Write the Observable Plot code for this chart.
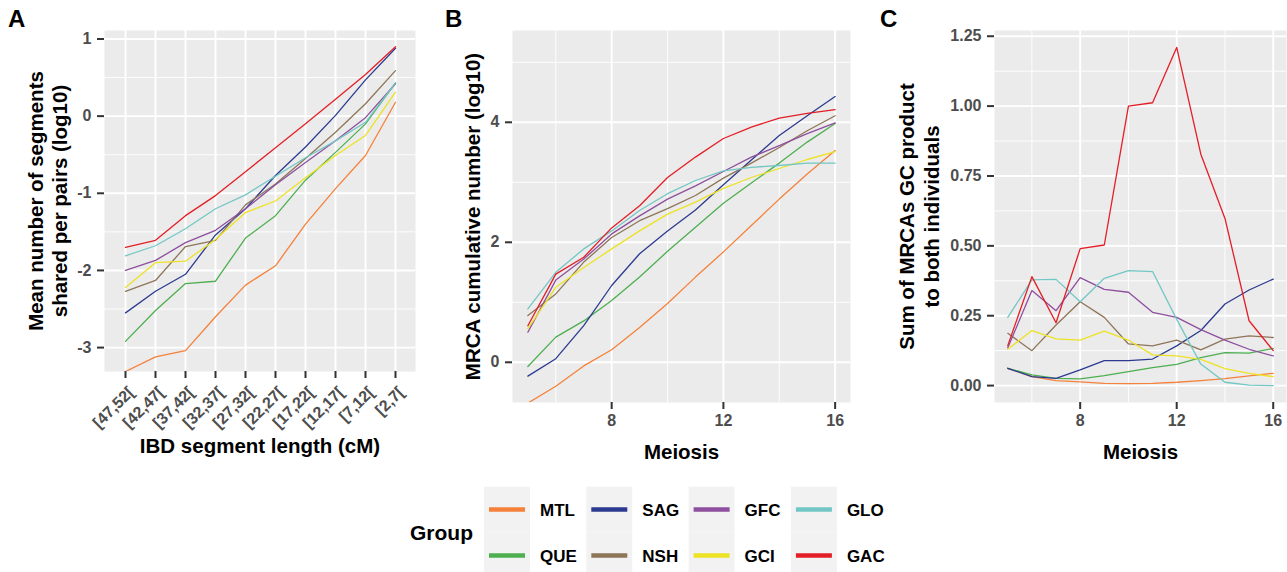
<!DOCTYPE html>
<html>
<head>
<meta charset="utf-8">
<script src="https://cdn.jsdelivr.net/npm/d3@7"></script>
<script src="https://cdn.jsdelivr.net/npm/@observablehq/plot@0.6"></script>
<style>
  body { margin: 0; background: #fff; font-family: "Liberation Sans", Arial, sans-serif; }
  #chart { position: relative; width: 1287px; height: 572px; overflow: hidden; background: #fff; }
  .panel { position: absolute; top: 0; }
  #overlay { position: absolute; left: 0; top: 0; pointer-events: none; }
</style>
</head>
<body>
<div id="chart"></div>
<script>
// ---------- data ----------
const groups = ["MTL", "QUE", "SAG", "NSH", "GFC", "GCI", "GLO", "GAC"];
const groupColors = ["#F5813A", "#4DAF4F", "#2B3A90", "#8E7558", "#8E4F9E", "#EDE224", "#72C7C4", "#E41E26"];

const segmentBins = ["[47,52[", "[42,47[", "[37,42[", "[32,37[", "[27,32[", "[22,27[", "[17,22[", "[12,17[", "[7,12[", "[2,7["];
const meiosis = [5, 6, 7, 8, 9, 10, 11, 12, 13, 14, 15, 16];

// Panel A: mean number of segments shared per pairs (log10), rows follow `groups`
const segValues = [
  [-3.31, -3.12, -3.04, -2.60, -2.19, -1.94, -1.40, -0.94, -0.51, 0.18],
  [-2.92, -2.52, -2.17, -2.14, -1.58, -1.29, -0.83, -0.47, -0.10, 0.43],
  [-2.55, -2.27, -2.05, -1.54, -1.20, -0.77, -0.40, 0.01, 0.47, 0.88],
  [-2.27, -2.13, -1.69, -1.61, -1.15, -0.88, -0.55, -0.21, 0.16, 0.59],
  [-2.00, -1.87, -1.64, -1.48, -1.20, -0.89, -0.60, -0.32, -0.02, 0.42],
  [-2.22, -1.90, -1.88, -1.60, -1.25, -1.10, -0.80, -0.51, -0.25, 0.31],
  [-1.81, -1.68, -1.46, -1.20, -1.02, -0.78, -0.54, -0.32, -0.08, 0.43],
  [-1.70, -1.61, -1.29, -1.03, -0.72, -0.41, -0.10, 0.22, 0.54, 0.90]
];

// Panel B: MRCA cumulative number (log10)
const mrcaValues = [
  [-0.68, -0.40, -0.06, 0.21, 0.58, 0.98, 1.42, 1.84, 2.28, 2.72, 3.14, 3.53],
  [-0.07, 0.42, 0.69, 1.03, 1.42, 1.85, 2.25, 2.65, 2.99, 3.32, 3.67, 3.98],
  [-0.23, 0.06, 0.61, 1.28, 1.81, 2.19, 2.54, 2.96, 3.37, 3.78, 4.11, 4.43],
  [0.78, 1.14, 1.67, 2.08, 2.36, 2.56, 2.78, 3.07, 3.32, 3.58, 3.86, 4.11],
  [0.50, 1.37, 1.72, 2.14, 2.44, 2.72, 2.94, 3.18, 3.42, 3.61, 3.81, 3.99],
  [0.56, 1.25, 1.58, 1.89, 2.19, 2.47, 2.67, 2.90, 3.08, 3.23, 3.38, 3.51],
  [0.89, 1.50, 1.89, 2.19, 2.53, 2.81, 3.03, 3.19, 3.25, 3.28, 3.32, 3.32],
  [0.61, 1.47, 1.75, 2.24, 2.61, 3.08, 3.42, 3.73, 3.92, 4.07, 4.15, 4.21]
];

// Panel C: sum of MRCAs GC product to both individuals
const gcValues = [
  [0.062, 0.032, 0.018, 0.013, 0.008, 0.007, 0.008, 0.012, 0.018, 0.025, 0.035, 0.044],
  [0.062, 0.038, 0.026, 0.024, 0.036, 0.050, 0.064, 0.076, 0.100, 0.118, 0.116, 0.133],
  [0.062, 0.032, 0.026, 0.056, 0.089, 0.089, 0.095, 0.142, 0.197, 0.292, 0.342, 0.381],
  [0.187, 0.125, 0.217, 0.300, 0.244, 0.149, 0.142, 0.163, 0.128, 0.166, 0.178, 0.172],
  [0.135, 0.340, 0.268, 0.386, 0.344, 0.334, 0.262, 0.244, 0.200, 0.163, 0.130, 0.106],
  [0.130, 0.197, 0.167, 0.163, 0.195, 0.163, 0.110, 0.106, 0.094, 0.061, 0.044, 0.032],
  [0.244, 0.378, 0.380, 0.300, 0.384, 0.411, 0.408, 0.237, 0.077, 0.012, 0.002, 0.000],
  [0.143, 0.390, 0.225, 0.490, 0.503, 1.000, 1.012, 1.210, 0.828, 0.598, 0.232, 0.125]
];

// tick labels
const segYTicks = [-3, -2, -1, 0, 1];
const segYMinor = [-2.5, -1.5, -0.5, 0.5];
const meiosisTicks = [8, 12, 16];
const meiosisMinor = [6, 10, 14];
const mrcaYTicks = [0, 2, 4];
const mrcaYMinor = [1, 3, 5];
const gcYTicks = [0, 0.25, 0.5, 0.75, 1.0, 1.25];
const gcYMinor = [0.125, 0.375, 0.625, 0.875, 1.125];

// ---------- helpers ----------
const FONT = "'Liberation Sans', Arial, sans-serif";
const GRID = "#ebebeb";
const TICKC = "#4d4d4d";

function longTable(xs, values) {
  return groups.flatMap((g, i) => xs.map((x, j) => ({group: g, x, y: values[i][j]})));
}

function baseMarks({xMajor, xMinor, yMajor, yMinor}) {
  return [
    Plot.frame({fill: GRID}),
    Plot.ruleY(yMinor, {stroke: "white", strokeWidth: 0.9}),
    Plot.ruleX(xMinor, {stroke: "white", strokeWidth: 0.9}),
    Plot.ruleY(yMajor, {stroke: "white", strokeWidth: 1.9}),
    Plot.ruleX(xMajor, {stroke: "white", strokeWidth: 1.9})
  ];
}

function titleMarks({yLabel, yDx, yLineHeight, xLabel, xDy}) {
  return [
    Plot.text([yLabel], {text: d => d, frameAnchor: "left", rotate: -90, dx: yDx,
      textAnchor: "middle", lineAnchor: "middle", lineHeight: yLineHeight,
      fontSize: 20.5, fontWeight: "bold", fill: "black", fontFamily: FONT}),
    Plot.text([xLabel], {text: d => d, frameAnchor: "bottom", dy: xDy,
      textAnchor: "middle", lineAnchor: "middle",
      fontSize: 20.5, fontWeight: "bold", fill: "black", fontFamily: FONT})
  ];
}

const axisStyle = {stroke: "#333", strokeWidth: 2, fill: TICKC, fontSize: 16, fontWeight: "bold", fontFamily: FONT, label: null};
const colorScale = {domain: groups, range: groupColors};
const svgStyle = {fontFamily: FONT, background: "transparent", overflow: "visible"};

const chart = document.getElementById("chart");
function place(svg, left) {
  svg.classList.add("panel");
  svg.style.left = left + "px";
  chart.appendChild(svg);
}

// ---------- Panel A ----------
const plotA = Plot.plot({
  width: 420, height: 480,
  marginLeft: 104, marginRight: 5, marginTop: 30, marginBottom: 109,
  style: svgStyle,
  x: {type: "point", domain: segmentBins, padding: 0.6, label: null},
  y: {domain: [-3.31, 1.11], label: null},
  color: colorScale,
  marks: [
    ...baseMarks({xMajor: segmentBins, xMinor: [], yMajor: segYTicks, yMinor: segYMinor}),
    Plot.line(longTable(segmentBins, segValues), {x: "x", y: "y", stroke: "group", strokeWidth: 1.3, clip: true}),
    Plot.axisY(segYTicks, {...axisStyle, tickSize: 7, tickPadding: 6, tickFormat: d => String(d)}),
    Plot.axisX(segmentBins, {...axisStyle, tickSize: 7, tickFormat: () => ""}),
    Plot.text(segmentBins, {x: d => d, text: d => d, frameAnchor: "bottom", rotate: -45,
      textAnchor: "end", lineAnchor: "middle", dx: 6, dy: 18,
      fontSize: 16, fontWeight: "bold", fill: TICKC, fontFamily: FONT}),
    ...titleMarks({yLabel: "Mean number of segments\nshared per pairs (log10)", yDx: -57, yLineHeight: 1.17,
      xLabel: "IBD segment length (cM)", xDy: 75})
  ]
});
place(plotA, 0);

// ---------- Panel B ----------
const plotB = Plot.plot({
  width: 430, height: 480,
  marginLeft: 92, marginRight: 0, marginTop: 30, marginBottom: 78,
  style: svgStyle,
  x: {domain: [4.45, 16.55], label: null},
  y: {domain: [-0.67, 5.53], label: null},
  color: colorScale,
  marks: [
    ...baseMarks({xMajor: meiosisTicks, xMinor: meiosisMinor, yMajor: mrcaYTicks, yMinor: mrcaYMinor}),
    Plot.line(longTable(meiosis, mrcaValues), {x: "x", y: "y", stroke: "group", strokeWidth: 1.3, clip: true}),
    Plot.axisY(mrcaYTicks, {...axisStyle, tickSize: 7, tickPadding: 6, tickFormat: d => String(d)}),
    Plot.axisX(meiosisTicks, {...axisStyle, tickSize: 7, tickPadding: 5, tickFormat: d => String(d)}),
    ...titleMarks({yLabel: "MRCA cumulative number (log10)", yDx: -40, yLineHeight: 1.2,
      xLabel: "Meiosis", xDy: 50})
  ]
});
place(plotB, 420);

// ---------- Panel C ----------
const plotC = Plot.plot({
  width: 437, height: 480,
  marginLeft: 144, marginRight: 1, marginTop: 30, marginBottom: 78,
  style: svgStyle,
  x: {domain: [4.45, 16.55], label: null},
  y: {domain: [-0.0605, 1.2705], label: null},
  color: colorScale,
  marks: [
    ...baseMarks({xMajor: meiosisTicks, xMinor: meiosisMinor, yMajor: gcYTicks, yMinor: gcYMinor}),
    Plot.line(longTable(meiosis, gcValues), {x: "x", y: "y", stroke: "group", strokeWidth: 1.3, clip: true}),
    Plot.axisY(gcYTicks, {...axisStyle, tickSize: 7, tickPadding: 6, tickFormat: d3.format(".2f")}),
    Plot.axisX(meiosisTicks, {...axisStyle, tickSize: 7, tickPadding: 5, tickFormat: d => String(d)}),
    ...titleMarks({yLabel: "Sum of MRCAs GC product\nto both individuals", yDx: -76.5, yLineHeight: 1.22,
      xLabel: "Meiosis", xDy: 50})
  ]
});
place(plotC, 850);

// ---------- overlay: panel tags and legend ----------
const overlay = d3.select(chart).append("svg")
  .attr("id", "overlay").attr("width", 1287).attr("height", 572)
  .style("font-family", FONT);

const panelTags = ["A", "B", "C"];
const tagX = [8, 445, 880];
overlay.selectAll("text.tag").data(panelTags).join("text")
  .attr("class", "tag")
  .attr("x", (d, i) => tagX[i]).attr("y", 27)
  .attr("font-size", 24).attr("font-weight", "bold").attr("fill", "black")
  .text(d => d);

const legend = overlay.append("g");
legend.append("text")
  .attr("x", 410).attr("y", 540)
  .attr("font-size", 21).attr("font-weight", "bold").attr("fill", "black")
  .text("Group");

const keyLeft = 484, colStep = 102.3, keyTop = 486.7, rowStep = 46, keySize = 46;
groups.forEach((g, i) => {
  const col = Math.floor(i / 2), row = i % 2;
  const x0 = keyLeft + col * colStep, y0 = keyTop + row * rowStep;
  legend.append("rect")
    .attr("x", x0).attr("y", y0).attr("width", keySize).attr("height", keySize)
    .attr("fill", "#f2f2f2");
  legend.append("line")
    .attr("x1", x0 + 5).attr("x2", x0 + 41)
    .attr("y1", y0 + 22.8).attr("y2", y0 + 22.8)
    .attr("stroke", groupColors[i]).attr("stroke-width", 4.3);
  legend.append("text")
    .attr("x", x0 + 56).attr("y", y0 + 29.3)
    .attr("font-size", 17).attr("font-weight", "bold").attr("fill", "black")
    .text(g);
});
</script>
</body>
</html>
